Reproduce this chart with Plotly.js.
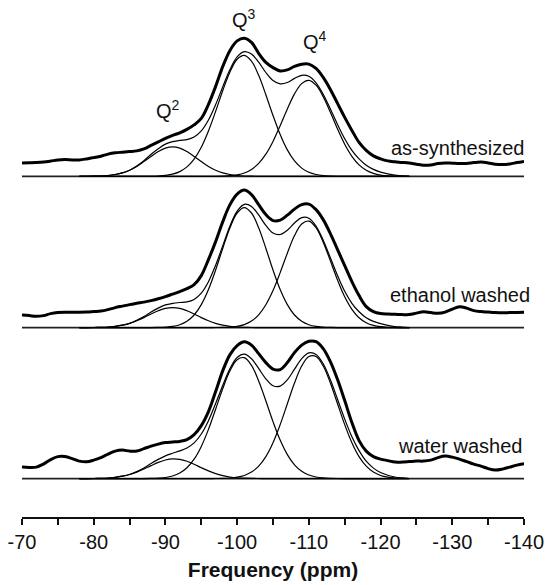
<!DOCTYPE html>
<html>
<head>
<meta charset="utf-8">
<script src="https://cdn.plot.ly/plotly-3.0.1.min.js"></script>
<style>
html,body{margin:0;padding:0;background:#fff;}
#chart{width:548px;height:585px;}
</style>
</head>
<body>
<div id="chart"></div>
<script>
// ---------- DATA ----------
// chemical shift grid (ppm) for fitted components
const ppmFit = [-78,-79,-80,-81,-82,-83,-84,-85,-86,-87,-88,-89,-90,-91,-92,-93,-94,-95,-96,-97,-98,-99,-100,-101,-102,-103,-104,-105,-106,-107,-108,-109,-110,-111,-112,-113,-114,-115,-116,-117,-118,-119,-120,-121,-122,-123,-124];
// chemical shift grid (ppm) for experimental spectra
const ppmExp = [-70,-71,-72,-73,-74,-75,-76,-77,-78,-79,-80,-81,-82,-83,-84,-85,-86,-87,-88,-89,-90,-91,-92,-93,-94,-95,-96,-97,-98,-99,-100,-101,-102,-103,-104,-105,-106,-107,-108,-109,-110,-111,-112,-113,-114,-115,-116,-117,-118,-119,-120,-121,-122,-123,-124,-125,-126,-127,-128,-129,-130,-131,-132,-133,-134,-135,-136,-137,-138,-139,-140];

const sampleNames = ['as-synthesized', 'ethanol washed', 'water washed'];

// as-synthesized
const asQ2  = [0,0.1,0.2,0.4,0.9,1.9,3.5,6.2,10.0,14.8,20.0,24.8,28.3,29.5,28.3,24.8,20.0,14.8,10.0,6.2,3.5,1.9,0.9,0.4,0.2,0.1,0,0,0,0,0,0,0,0,0,0,0,0,0,0,0,0,0,0,0,0,0];
const asQ3  = [0,0,0,0,0,0,0,0,0,0,0.1,0.4,1.0,2.2,4.8,9.5,17.3,29.2,45.4,65.0,85.9,104.4,117.1,121.0,115.2,101.1,81.7,60.9,41.9,26.5,15.5,8.3,4.1,1.9,0.8,0.3,0.1,0,0,0,0,0,0,0,0,0,0];
const asQ4  = [0,0,0,0,0,0,0,0,0,0,0,0,0,0,0,0,0,0,0,0.1,0.3,0.7,1.6,3.4,7.0,13.0,22.2,35.0,50.7,67.4,82.5,92.8,96.0,91.2,79.8,64.1,47.4,32.2,20.1,11.5,6.1,3.0,1.3,0.5,0.2,0.1,0];
const asFit = [0,0.1,0.2,0.4,0.9,1.9,3.5,6.2,10.5,15.8,22.1,27.7,32.3,34.7,36.1,36.8,39.3,45.5,56.4,71.8,89.7,107.0,119.6,124.8,122.4,114.2,103.9,95.9,92.6,93.9,98.0,101.1,100.1,93.6,82.1,67.4,52.0,37.7,26.1,17.5,11.1,7.0,4.3,2.5,1.2,0.6,0];
const asExp = [13.5,13.6,13.8,14.3,15.3,16.5,16.8,16.5,16.5,17.5,18.8,20.2,22.3,23.6,24.2,24.8,25.5,27.5,31,34.5,38,41,43.5,47,51.5,58,72,90,110,126,135.5,138.2,134,123,114,108.8,105.5,106.5,110,112.2,112.3,108,99,87,73,59,46,34,26,20.5,17.5,15.5,14.6,14,13.3,12.2,11.2,11.5,12.8,13.5,13.2,12.8,13,13.8,14.3,13.5,12.2,11.8,12.5,13.8,15];

// ethanol washed
const etQ2  = [0,0,0.1,0.3,0.6,1.3,2.4,4.2,6.8,10.0,13.6,16.8,19.2,20.0,19.2,16.8,13.6,10.0,6.8,4.2,2.4,1.3,0.6,0.3,0.1,0,0,0,0,0,0,0,0,0,0,0,0,0,0,0,0,0,0,0,0,0,0];
const etQ3  = [0,0,0,0,0,0,0,0,0,0,0,0.2,0.5,1.2,2.9,6.4,12.6,23.0,38.1,57.6,79.4,99.9,114.6,120.0,114.6,99.9,79.4,57.6,38.1,23.0,12.6,6.4,2.9,1.2,0.5,0.2,0,0,0,0,0,0,0,0,0,0,0];
const etQ4  = [0,0,0,0,0,0,0,0,0,0,0,0,0,0,0,0,0,0,0,0.1,0.2,0.5,1.3,3.0,6.5,12.8,22.8,37.0,55.0,74.4,92.0,103.6,106.5,99.9,85.4,66.7,47.5,30.8,18.3,9.9,4.9,2.2,0.9,0.3,0.1,0,0];
const etFit = [0,0,0.1,0.3,0.6,1.3,2.4,4.2,7.3,11.0,15.6,19.5,22.7,24.2,25.1,25.7,28.2,34.5,45.9,62.4,82.0,101.7,116.5,123.3,121.2,112.7,102.2,94.6,93.1,97.4,104.6,110.0,109.4,101.6,87.4,69.9,52.0,36.3,24.3,15.9,9.9,6.2,3.9,2.3,1.1,0.5,0];
const etExp = [12.5,12,11.3,12,14,15,15.3,15.3,15.3,15.5,16,16.5,18,20,21.5,23,24.3,25.5,27,28.8,31,33.5,36,39,43,52,68,86,106,123,133.5,137.5,133,123,113,107,107.5,112.5,118.5,123,123.5,118,108,94,78,62,46,32,21,16,14,13.5,13.3,13,13,14.5,15.8,15,14.3,15.5,18.5,20.8,19.5,17,16,15.5,15,14.8,15,15.2,15.3];

// water washed
const waQ2  = [0,0,0.1,0.3,0.6,1.3,2.4,4.1,6.5,9.6,13.0,16.2,18.6,19.7,19.2,17.3,14.3,10.9,7.7,5.0,3.0,1.6,0.8,0.4,0.2,0.1,0,0,0,0,0,0,0,0,0,0,0,0,0,0,0,0,0,0,0,0,0];
const waQ3  = [0,0,0,0,0,0,0,0,0,0,0.2,0.5,1.1,2.6,5.5,10.8,19.4,32.2,49.2,69.4,90.1,107.8,118.9,120.9,113.2,97.7,77.8,57.0,38.5,24.0,13.8,7.3,3.6,1.6,0.7,0.3,0.1,0,0,0,0,0,0,0,0,0,0];
const waQ4  = [0,0,0,0,0,0,0,0,0,0,0,0,0,0,0,0,0,0,0,0.1,0.2,0.6,1.4,3.1,6.5,12.4,22.0,35.9,54.0,74.8,95.6,112.6,122.1,122.1,112.6,95.6,74.8,54.0,35.9,22.0,12.4,6.5,3.1,1.4,0.6,0.2,0.1];
const waFit = [0,0,0.1,0.3,0.6,1.3,2.4,4.1,7.0,10.6,15.2,19.2,22.7,25.3,27.7,30.6,35.7,44.6,57.9,75.0,93.3,110.0,121.1,124.4,119.9,110.2,99.8,92.9,92.5,98.8,109.4,119.9,125.7,124.2,114.8,98.9,79.4,59.5,41.9,28.0,17.4,10.5,6.1,3.4,1.6,0.7,0.1];
const waExp = [11.7,11.2,11.5,14.5,19,22,22,20,17.5,16.8,18.5,21,24.5,27.5,28.5,27.5,27.5,30,32.5,34.5,36,36.6,37.2,39,44,53,67,87,108,124,133,136.8,133.5,125,116,109.5,109,116,126,133.5,137.3,137,130,117,99,78,56,38,27.5,22,19.5,18,16.5,16.5,17,17.5,17.5,18.5,21,22.5,21.5,19.5,17,14.5,12.5,10,8.5,9.5,11.5,13.5,15];

// axis ticks
const tickValues = [-70,-80,-90,-100,-110,-120,-130,-140];
const tickLabels = ['-70','-80','-90','-100','-110','-120','-130','-140'];

// peak labels
const peakLabels = ['Q<sup>2</sup>', 'Q<sup>3</sup>', 'Q<sup>4</sup>'];
const peakPpm = [-90.3, -101.0, -110.9];

// ---------- DRAWING ----------
const FONT = 'Arial, "Liberation Sans", Helvetica, sans-serif';
const spectra = [
  {exp: asExp, fit: asFit, comps: [asQ2, asQ3, asQ4]},
  {exp: etExp, fit: etFit, comps: [etQ2, etQ3, etQ4]},
  {exp: waExp, fit: waFit, comps: [waQ2, waQ3, waQ4]}
];
const offsets = [340.6, 189.4, 38.4];   // vertical stacking of the three spectra
const labelY = [369.5, 222, 71];
const labelX = [1.004, 1.016, 1.0];
const peakLabelY = [407.5, 499, 476.5];

const traces = [];
spectra.forEach((s, i) => {
  const off = offsets[i];
  // baseline (zero intensity)
  traces.push({x: ppmExp, y: ppmExp.map(() => off), mode: 'lines',
    line: {color: '#222', width: 1.6}, hoverinfo: 'skip'});
  s.comps.forEach(c => {
    traces.push({x: ppmFit, y: c.map(v => v + off), mode: 'lines',
      line: {color: '#000', width: 1.2, shape: 'spline'}, hoverinfo: 'skip'});
  });
  traces.push({x: ppmFit, y: s.fit.map(v => v + off), mode: 'lines',
    line: {color: '#000', width: 1.2, shape: 'spline'}, hoverinfo: 'skip'});
  traces.push({x: ppmExp, y: s.exp.map(v => v + off), mode: 'lines',
    line: {color: '#000', width: 3, shape: 'spline'}, hoverinfo: 'skip'});
});

const annotations = [];
sampleNames.forEach((n, i) => {
  annotations.push({text: n, xref: 'paper', yref: 'y', x: labelX[i], y: labelY[i],
    xanchor: 'right', yanchor: 'middle', showarrow: false,
    font: {family: FONT, size: 20, color: '#111'}});
});
peakLabels.forEach((t, i) => {
  annotations.push({text: t, xref: 'x', yref: 'y', x: peakPpm[i], y: peakLabelY[i],
    xanchor: 'center', yanchor: 'middle', showarrow: false,
    font: {family: FONT, size: 20, color: '#111'}});
});

const layout = {
  width: 548, height: 585,
  margin: {l: 22, r: 24, t: 0, b: 68},
  paper_bgcolor: '#fff', plot_bgcolor: '#fff',
  showlegend: false,
  font: {family: FONT, color: '#111', size: 20},
  xaxis: {
    range: [-70, -140], showgrid: false, zeroline: false,
    showline: true, linecolor: '#111', linewidth: 2,
    ticks: 'outside', ticklen: 6, tickwidth: 2, tickcolor: '#111',
    tickmode: 'array', tickvals: tickValues, ticktext: tickLabels,
    tickfont: {family: FONT, size: 20, color: '#111'},
    ticklabelstandoff: 0,
    minor: {tickmode: 'linear', tick0: -70, dtick: 5, ticks: 'outside', ticklen: 6, tickwidth: 2, tickcolor: '#111'},
    title: {text: '<b>Frequency (ppm)</b>', font: {family: FONT, size: 21, color: '#111'}, standoff: 10}
  },
  yaxis: {range: [0, 517], visible: false, fixedrange: true},
  annotations: annotations
};

Plotly.newPlot('chart', traces, layout, {displayModeBar: false, staticPlot: true});
</script>
</body>
</html>
